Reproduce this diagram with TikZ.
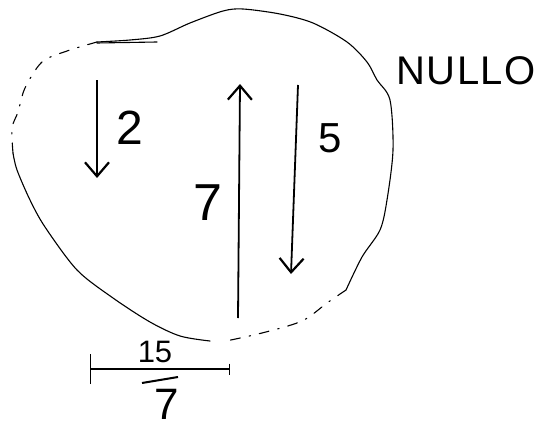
\documentclass[tikz,border=0pt]{standalone}
\usepackage{fontspec}
\setmainfont{Liberation Sans}
\usetikzlibrary{arrows.meta, positioning}

\begin{document}
\begin{tikzpicture}[x=1pt, y=-1pt,
    rim/.style={line width=1.1pt, line join=round, line cap=round},
    gap/.style={rim, dash pattern=on 10pt off 9pt on 1.5pt off 9pt},
    vec/.style={-{Straight Barb[length=14pt,width=24pt,line width=2.2pt]}, line width=1.8pt},
    lbl/.style={inner sep=0pt},
  ]
    \useasboundingbox (0,0) rectangle (538,428);

    % outline of the region
    \draw[rim] plot[smooth] coordinates {(97,42) (130,40) (160,36) (190,23) (223,11) (243,9)
      (280,14) (313,23) (347,42) (367,62) (377,80) (390,100) (393,150) (387,200) (380,230)
      (362,257) (346,290)};
    \draw[rim] (97,43) -- (157,42);
    \draw[gap] plot[smooth] coordinates {(346,290) (327,303) (302,321) (262,333) (226,341)};
    \draw[rim] plot[smooth] coordinates {(210,341) (180,336) (150,322) (113,298) (77,270)
      (45,227) (30,200) (17,170) (13,153)};
    \draw[gap] plot[smooth] coordinates {(13,153) (12,128) (18,112) (25,88) (42,62) (67,51) (97,42)};

    \node[lbl, font=\fontsize{40}{40}\selectfont\addfontfeatures{LetterSpace=4}] (nullo) at (466,71) {NULLO};

    % forces
    \coordinate (twoTop) at (97,80);
    \coordinate (twoEnd) at (97,178);
    \coordinate (sevenBot) at (238,318);
    \coordinate (sevenTop) at (240,84);
    \coordinate (fiveTop) at (298,85);
    \coordinate (fiveEnd) at (291,274);

    \draw[vec] (twoTop) -- (twoEnd);
    \draw[vec] (sevenBot) -- (sevenTop);
    \draw[vec] (fiveTop) -- (fiveEnd);

    \node[lbl, font=\fontsize{48}{48}\selectfont] (two) at (130,128) {2};
    \node[lbl, font=\fontsize{52}{52}\selectfont] (seven) at (208,203) {7};
    \node[lbl, font=\fontsize{42}{42}\selectfont] (five) at (330,138) {5};

    % span
    \coordinate (spanL) at (90,369);
    \coordinate (spanR) at (230,369);
    \draw[{Bar[width=30pt]}-{Bar[width=11pt]}, line width=1.4pt] (spanL) -- (spanR);
    \node[lbl, font=\fontsize{31}{31}\selectfont] (num) at (155,352) {15};
    \draw[line width=2pt] (142,383) -- (178,377);
    \node[lbl, font=\fontsize{44}{44}\selectfont] (den) at (167,404) {7};
\end{tikzpicture}
\end{document}
